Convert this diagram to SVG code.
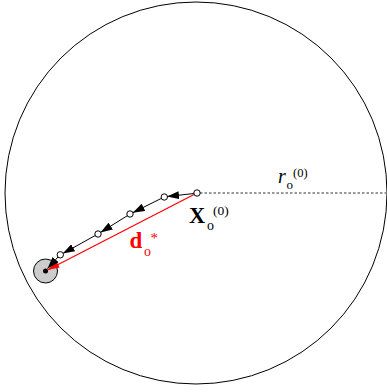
<svg xmlns="http://www.w3.org/2000/svg" width="387" height="392" viewBox="0 0 387 392">
<style>
.pt{fill:#fff;stroke:#000;stroke-width:1}
.step{stroke:#000;stroke-width:1;fill:none;marker-end:url(#ah)}
.t{font-family:"Liberation Serif",serif;fill:#000}
.r{fill:#f00}
</style>
<defs>
<marker id="ah" viewBox="0 0 12 8" refX="12" refY="4" markerWidth="12" markerHeight="8" markerUnits="userSpaceOnUse" orient="auto">
<path d="M0,0 L12,4 L0,8 Z" fill="#000"/>
</marker>
<marker id="rh" viewBox="0 0 12 7" refX="12" refY="3.5" markerWidth="12" markerHeight="7" markerUnits="userSpaceOnUse" orient="auto">
<path d="M0,0 L12,3.5 L0,7 Z" fill="#f00"/>
</marker>
</defs>
<g id="boundary">
<circle cx="196" cy="193" r="191" fill="none" stroke="#000" stroke-width="1"/>
</g>
<g id="target">
<circle cx="45.5" cy="271" r="12" fill="#ccc" stroke="#000" stroke-width="1"/>
<circle cx="45.5" cy="271" r="2.5" fill="#000"/>
</g>
<g id="connectors">
<line x1="200" y1="193" x2="387" y2="193" stroke="#777" stroke-width="1.5" stroke-dasharray="2.5,2"/>
<line x1="194" y1="194.5" x2="47.5" y2="270" stroke="#f00" stroke-width="1.2" marker-end="url(#rh)"/>
<line class="step" x1="194" y1="193.5" x2="167" y2="196.5"/>
<line class="step" x1="161.5" y1="198.3" x2="132.7" y2="212.7"/>
<line class="step" x1="127.5" y1="215.6" x2="100.5" y2="232.4"/>
<line class="step" x1="95.4" y1="235.4" x2="62.7" y2="253.6"/>
<line class="step" x1="58" y1="257" x2="47.5" y2="268.5"/>
</g>
<g id="points">
<circle class="pt" cx="197" cy="193" r="3.2"/>
<circle class="pt" cx="164.3" cy="197" r="3.2"/>
<circle class="pt" cx="130" cy="214" r="3.2"/>
<circle class="pt" cx="98" cy="234" r="3.2"/>
<circle class="pt" cx="60.3" cy="254.8" r="3.2"/>
</g>
<g id="labels">
<text class="t" x="189" y="222.5" font-size="22.5" font-weight="bold">X</text>
<text class="t" x="207" y="230" font-size="14">o</text>
<text class="t" x="213" y="215" font-size="13.5">(0)</text>
<text class="t" x="278" y="183" font-size="20" font-style="italic">r</text>
<text class="t" x="286.5" y="189" font-size="13">o</text>
<text class="t" x="293" y="176.5" font-size="12.5">(0)</text>
<text class="t r" x="129.5" y="248" font-size="23" font-weight="bold">d</text>
<text class="t r" x="144" y="256" font-size="14">o</text>
<text class="t r" x="150.5" y="243" font-size="15">*</text>
</g>
</svg>
